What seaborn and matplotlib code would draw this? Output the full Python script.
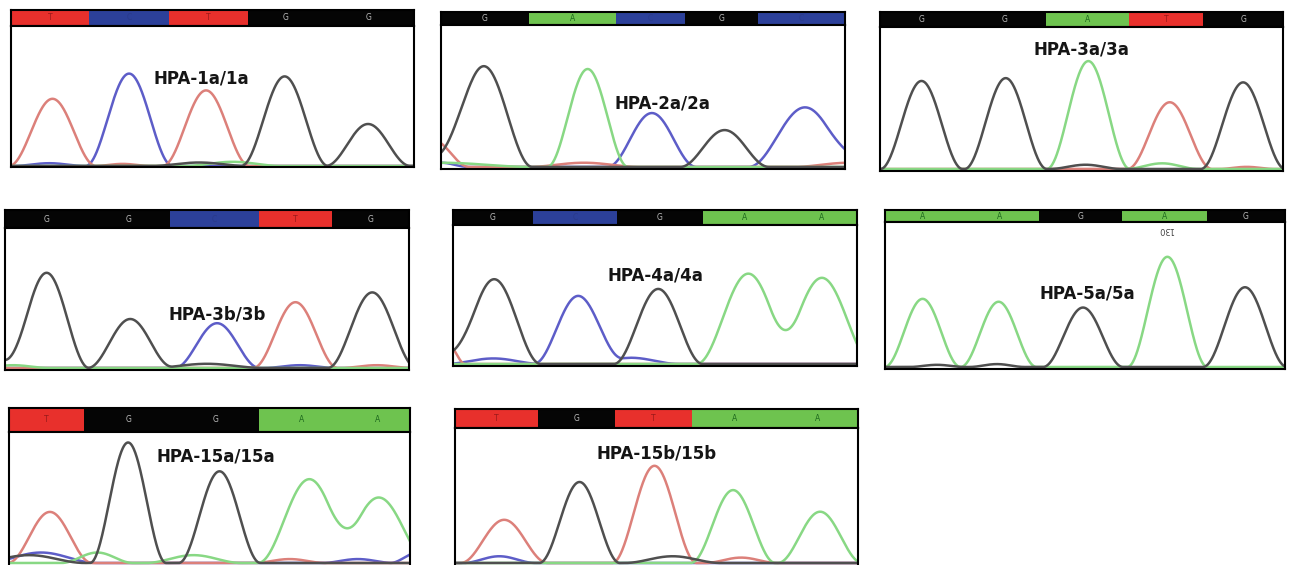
import numpy as np
import pandas as pd
import matplotlib
matplotlib.use("Agg")
import matplotlib.pyplot as plt
import seaborn as sns

sns.set_style("white")
plt.rcParams["font.family"] = ["DejaVu Sans"]

# ---------------------------------------------------------------------------
# Sequencing chromatograms of HPA genotypes.
# For every panel: the base calls, the call-strip cell edges (percent of the
# read window), and the peak table (dye channel, centre %, height,
# full width at half maximum %).
# ---------------------------------------------------------------------------

# HPA-1a/1a
p1_label = "HPA-1a/1a"
p1_calls = ["T", "C", "T", "G", "G"]
p1_edges = [0, 19.4, 39.1, 58.7, 77.5, 100]
p1_dye = ["T", "C", "T", "G", "G", "C", "T", "G", "A"]
p1_center = [10.3, 29.3, 48.4, 67.9, 88.6, 9.5, 27.7, 46.7, 55.0]
p1_height = [0.48, 0.66, 0.54, 0.64, 0.30, 0.02, 0.015, 0.025, 0.03]
p1_fwhm = [10.8, 10.8, 10.8, 10.8, 10.5, 9.0, 7.0, 12.0, 12.0]

# HPA-2a/2a
p2_label = "HPA-2a/2a"
p2_calls = ["G", "A", "C", "G", "C"]
p2_edges = [0, 21.8, 43.3, 60.4, 78.5, 100]
p2_dye = ["G", "A", "C", "G", "C", "T", "A", "C", "T", "T", "G", "C"]
p2_center = [10.6, 36.3, 52.2, 70.2, 90.1, -2.0, 0.0, 0.0, 35.4, 101.0, -1.0, 103.0]
p2_height = [0.71, 0.69, 0.38, 0.26, 0.42, 0.19, 0.03, 0.03, 0.03, 0.03, 0.08, 0.06]
p2_fwhm = [12.0, 10.0, 11.0, 11.0, 14.0, 9.0, 23.0, 7.0, 14.0, 14.0, 9.0, 8.0]

# HPA-3a/3a
p3_label = "HPA-3a/3a"
p3_calls = ["G", "G", "A", "T", "G"]
p3_edges = [0, 20.6, 41.2, 61.8, 80.2, 100]
p3_dye = ["G", "G", "A", "T", "G", "G", "A", "T"]
p3_center = [10.3, 31.2, 51.7, 71.9, 90.1, 51.0, 70.0, 91.0]
p3_height = [0.62, 0.64, 0.76, 0.47, 0.61, 0.03, 0.04, 0.015]
p3_fwhm = [10.2, 10.2, 10.3, 10.5, 10.5, 9.0, 9.0, 7.0]

# HPA-3b/3b
p4_label = "HPA-3b/3b"
p4_calls = ["G", "G", "C", "T", "G"]
p4_edges = [0, 20.5, 40.9, 62.8, 81.0, 100]
p4_dye = ["G", "G", "C", "T", "G", "A", "G", "C", "T", "G"]
p4_center = [10.3, 31.0, 52.5, 71.9, 90.9, 2.0, 50.0, 73.0, 92.0, -1.0]
p4_height = [0.68, 0.35, 0.32, 0.47, 0.54, 0.02, 0.03, 0.02, 0.02, 0.06]
p4_fwhm = [10.5, 10.5, 10.5, 10.5, 11.0, 9.0, 14.0, 9.0, 9.0, 7.0]

# HPA-4a/4a
p5_label = "HPA-4a/4a"
p5_calls = ["G", "C", "G", "A", "A"]
p5_edges = [0, 19.8, 40.5, 62.0, 82.4, 100]
p5_dye = ["G", "C", "G", "A", "A", "T", "C", "C", "G"]
p5_center = [10.2, 31.0, 50.8, 73.1, 91.3, -1.0, 10.0, 44.0, -1.0]
p5_height = [0.61, 0.49, 0.54, 0.65, 0.62, 0.13, 0.04, 0.045, 0.08]
p5_fwhm = [11.5, 11.0, 11.0, 12.8, 12.8, 4.0, 12.0, 12.0, 7.0]

# HPA-5a/5a
p6_label = "HPA-5a/5a"
p6_calls = ["A", "A", "G", "A", "G"]
p6_edges = [0, 19.0, 38.4, 59.2, 80.5, 100]
p6_dye = ["A", "A", "G", "A", "G", "G", "G"]
p6_center = [9.4, 28.4, 49.5, 70.6, 90.0, 13.0, 28.0]
p6_height = [0.47, 0.45, 0.41, 0.76, 0.55, 0.015, 0.02]
p6_fwhm = [9.5, 9.5, 10.0, 10.0, 10.5, 7.0, 7.0]

# HPA-15a/15a
p7_label = "HPA-15a/15a"
p7_calls = ["T", "G", "G", "A", "A"]
p7_edges = [0, 18.8, 40.8, 62.3, 83.7, 100]
p7_dye = ["T", "G", "G", "A", "A", "C", "G", "A", "A", "T", "C", "C"]
p7_center = [10.2, 29.7, 52.5, 74.9, 92.2, 8.0, 5.0, 22.0, 46.0, 70.0, 87.0, 102.0]
p7_height = [0.39, 0.92, 0.70, 0.64, 0.50, 0.08, 0.06, 0.08, 0.06, 0.03, 0.03, 0.08]
p7_fwhm = [10.5, 9.5, 10.2, 12.8, 12.8, 14.0, 14.0, 9.0, 12.0, 9.0, 9.0, 7.0]

# HPA-15b/15b
p8_label = "HPA-15b/15b"
p8_calls = ["T", "G", "T", "A", "A"]
p8_edges = [0, 20.7, 39.6, 58.7, 79.8, 100]
p8_dye = ["T", "G", "T", "A", "A", "C", "G", "T"]
p8_center = [12.2, 30.9, 49.5, 69.0, 90.6, 11.0, 54.0, 71.0]
p8_height = [0.32, 0.60, 0.72, 0.54, 0.38, 0.05, 0.05, 0.04]
p8_fwhm = [10.8, 10.0, 10.5, 10.5, 10.5, 9.0, 12.0, 9.0]

# ---------------------------------------------------------------------------
# Styling
# ---------------------------------------------------------------------------
CALL_COLORS = {"T": "#e8302c", "C": "#2c409a", "G": "#050505", "A": "#6ec34f"}
CALL_TEXT = {"T": "#9a1a1a", "C": "#2a3a8a", "G": "#bdbdbd", "A": "#1f6a1f"}
TRACE_COLORS = {"T": "#dc807a", "C": "#5d5dc8", "G": "#4f4f4f", "A": "#88d884"}
DYE_ORDER = ["C", "T", "A", "G"]

FIG_W, FIG_H = 1289, 565

# Panel placement in pixels: left, top, right, strip bottom, frame bottom, baseline,
# plus label anchor (percent, signal) inside the trace area.
panels = [
    dict(label=p1_label, calls=p1_calls, edges=p1_edges, dye=p1_dye, center=p1_center,
         height=p1_height, fwhm=p1_fwhm, box=(11, 10, 414, 26, 167, 166), text=(47.1, 0.625)),
    dict(label=p2_label, calls=p2_calls, edges=p2_edges, dye=p2_dye, center=p2_center,
         height=p2_height, fwhm=p2_fwhm, box=(441, 12, 845, 25, 169, 167), text=(54.9, 0.45)),
    dict(label=p3_label, calls=p3_calls, edges=p3_edges, dye=p3_dye, center=p3_center,
         height=p3_height, fwhm=p3_fwhm, box=(880, 12, 1283, 27, 171, 169), text=(50.0, 0.84)),
    dict(label=p4_label, calls=p4_calls, edges=p4_edges, dye=p4_dye, center=p4_center,
         height=p4_height, fwhm=p4_fwhm, box=(5, 210, 409, 228, 370, 368), text=(52.5, 0.38)),
    dict(label=p5_label, calls=p5_calls, edges=p5_edges, dye=p5_dye, center=p5_center,
         height=p5_height, fwhm=p5_fwhm, box=(453, 210, 857, 225, 366, 364), text=(50.0, 0.64)),
    dict(label=p6_label, calls=p6_calls, edges=p6_edges, dye=p6_dye, center=p6_center,
         height=p6_height, fwhm=p6_fwhm, box=(885, 210, 1285, 222, 369, 367), text=(50.7, 0.51)),
    dict(label=p7_label, calls=p7_calls, edges=p7_edges, dye=p7_dye, center=p7_center,
         height=p7_height, fwhm=p7_fwhm, box=(9, 408, 410, 432, 575, 563), text=(51.6, 0.81)),
    dict(label=p8_label, calls=p8_calls, edges=p8_edges, dye=p8_dye, center=p8_center,
         height=p8_height, fwhm=p8_fwhm, box=(455, 409, 858, 428, 575, 563), text=(50.0, 0.81)),
]


def trace_frame(dye, center, height, fwhm):
    """Render the peak table of one read as dye traces (long format).

    Each peak is a raised-cosine profile: rounded apex, finite base that
    spans twice the full width at half maximum.
    """
    pos = np.linspace(0, 100, 801)
    frames = []
    for base in DYE_ORDER:
        sig = np.zeros_like(pos)
        used = False
        for d, c, h, w in zip(dye, center, height, fwhm):
            if d == base:
                u = np.clip(np.abs(pos - c) / w, 0, 1)
                sig += h * np.cos(0.5 * np.pi * u) ** 2
                used = True
        if used:
            frames.append(pd.DataFrame({"pos": pos, "signal": sig, "dye": base}))
    return pd.concat(frames, ignore_index=True)


def px_axes(fig, left, top, right, bottom):
    return fig.add_axes([left / FIG_W, 1 - bottom / FIG_H,
                         (right - left) / FIG_W, (bottom - top) / FIG_H])


fig = plt.figure(figsize=(FIG_W / 100, FIG_H / 100), dpi=100)

for i, p in enumerate(panels):
    left, top, right, strip_bottom, bottom, base_px = p["box"]

    # call strip
    ax_s = px_axes(fig, left, top, right, strip_bottom)
    edges = p["edges"]
    for k, call in enumerate(p["calls"]):
        ax_s.barh(0, edges[k + 1] - edges[k], left=edges[k], height=1.0,
                  color=CALL_COLORS[call], edgecolor="none")
        ax_s.text((edges[k] + edges[k + 1]) / 2, 0, call, ha="center", va="center",
                  fontsize=5.5, color=CALL_TEXT[call])
    ax_s.set_xlim(0, 100)
    ax_s.set_ylim(-0.5, 0.5)

    # traces
    ax = px_axes(fig, left, strip_bottom, right, bottom)
    df = trace_frame(p["dye"], p["center"], p["height"], p["fwhm"])
    present = [d for d in DYE_ORDER if d in set(df["dye"])]
    sns.lineplot(data=df, x="pos", y="signal", hue="dye", hue_order=present,
                 palette=TRACE_COLORS, legend=False, estimator=None, sort=False,
                 linewidth=1.8, ax=ax)
    ax.set_xlim(0, 100)
    ax.set_ylim(-(bottom - base_px) / (base_px - strip_bottom), 1.0)
    tx, ty = p["text"]
    ax.text(tx, ty, p["label"], ha="center", va="center", fontsize=12,
            fontweight="bold", color="#151515")
    if i == 5:
        ax.text(70.3, 0.95, "130", ha="center", va="center", fontsize=6,
                color="#444444", rotation=180)

    for a in (ax_s, ax):
        a.set_xticks([])
        a.set_yticks([])
        a.set_xlabel("")
        a.set_ylabel("")
        for s in a.spines.values():
            s.set_visible(True)
            s.set_color("black")
            s.set_linewidth(1.5)

fig.savefig("out.png", dpi=100, facecolor="white")
